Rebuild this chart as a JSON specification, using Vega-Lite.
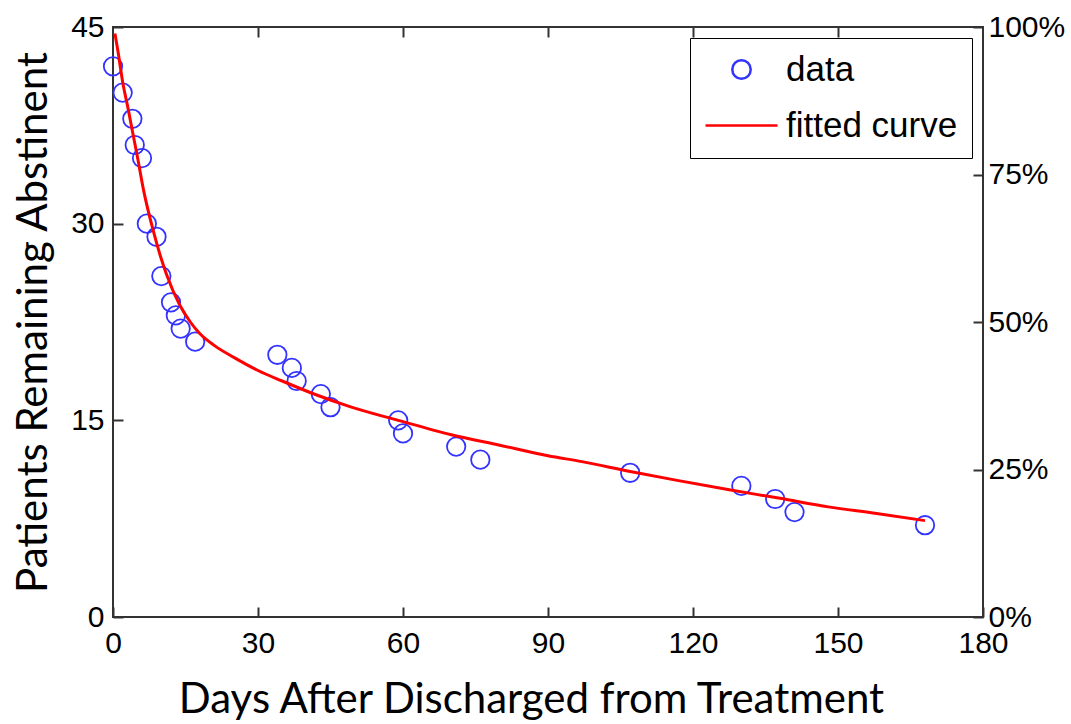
{
  "$schema": "https://vega.github.io/schema/vega-lite/v6.json",
  "width": 870,
  "height": 590,
  "autosize": {"type": "none"},
  "padding": {"left": 113, "top": 27, "right": 88, "bottom": 107},
  "background": "white",
  "datasets": {
    "obs": [
      {"day": 0, "patients": 42},
      {"day": 2, "patients": 40},
      {"day": 4, "patients": 38},
      {"day": 4.5, "patients": 36},
      {"day": 6, "patients": 35},
      {"day": 7, "patients": 30},
      {"day": 9, "patients": 29},
      {"day": 10, "patients": 26},
      {"day": 12, "patients": 24},
      {"day": 13, "patients": 23},
      {"day": 14, "patients": 22},
      {"day": 17, "patients": 21},
      {"day": 34, "patients": 20},
      {"day": 37, "patients": 19},
      {"day": 38, "patients": 18},
      {"day": 43, "patients": 17},
      {"day": 45, "patients": 16},
      {"day": 59, "patients": 15},
      {"day": 60, "patients": 14},
      {"day": 71, "patients": 13},
      {"day": 76, "patients": 12},
      {"day": 107, "patients": 11},
      {"day": 130, "patients": 10},
      {"day": 137, "patients": 9},
      {"day": 141, "patients": 8},
      {"day": 168, "patients": 7}
    ],
    "fit": [
      {"day": 0.4, "patients": 44.5},
      {"day": 1, "patients": 43.2},
      {"day": 2.1, "patients": 40.6},
      {"day": 3, "patients": 39.0},
      {"day": 4.2, "patients": 36.7},
      {"day": 5, "patients": 35.2},
      {"day": 6.3, "patients": 32.6},
      {"day": 8.3, "patients": 29.5},
      {"day": 10, "patients": 27.3},
      {"day": 11.1, "patients": 26.1},
      {"day": 13.8, "patients": 23.8},
      {"day": 16, "patients": 22.5},
      {"day": 18, "patients": 21.6},
      {"day": 21, "patients": 20.7},
      {"day": 25, "patients": 19.8},
      {"day": 30, "patients": 18.8},
      {"day": 35, "patients": 18.0},
      {"day": 42, "patients": 16.95},
      {"day": 49, "patients": 16.05},
      {"day": 59, "patients": 15.0},
      {"day": 70, "patients": 13.9},
      {"day": 80, "patients": 13.1},
      {"day": 90, "patients": 12.3},
      {"day": 97, "patients": 11.85},
      {"day": 107, "patients": 11.1},
      {"day": 117, "patients": 10.4},
      {"day": 127.5, "patients": 9.7},
      {"day": 138, "patients": 9.05},
      {"day": 148, "patients": 8.4},
      {"day": 158, "patients": 7.9},
      {"day": 168, "patients": 7.35}
    ]
  },
  "config": {
    "view": {"stroke": "#333333", "strokeWidth": 2},
    "axis": {
      "grid": false,
      "domain": false,
      "offset": -10,
      "tickColor": "#333333",
      "tickWidth": 2,
      "tickSize": 10,
      "labelFont": "Liberation Sans",
      "labelFontSize": 30,
      "labelColor": "black",
      "labelFlush": false,
      "labelOverlap": false,
      "titleFont": "Lato",
      "titleFontSize": 42,
      "titleFontWeight": "normal",
      "titleColor": "black"
    },
    "legend": {
      "orient": "top-right",
      "offset": 11,
      "padding": 14,
      "strokeColor": "black",
      "fillColor": "white",
      "labelFont": "Liberation Sans",
      "labelFontSize": 35,
      "labelLimit": 400,
      "labelColor": "black",
      "labelOffset": 7,
      "rowPadding": -21,
      "symbolStrokeWidth": 2.5
    }
  },
  "layer": [
    {
      "encoding": {
        "x": {"field": "day", "type": "quantitative", "scale": {"domain": [0, 180], "nice": false, "zero": false},
          "axis": {
            "orient": "bottom",
            "values": [0, 30, 60, 90, 120, 150, 180],
            "labelPadding": 11,
            "title": "Days After Discharged from Treatment",
            "titleX": 418,
            "titleY": 105,
            "titleBaseline": "alphabetic",
            "titleAlign": "center"
          }},
        "y": {"field": "patients", "type": "quantitative", "scale": {"domain": [0, 45], "nice": false},
          "axis": {
            "orient": "left",
            "values": [0, 15, 30, 45],
            "labelPadding": 9,
            "title": "Patients Remaining Abstinent",
            "titleX": -77,
            "titleY": 295,
            "titleAngle": 270,
            "titleBaseline": "alphabetic",
            "titleAlign": "center"
          }}
      },
      "layer": [
        {
          "data": {"name": "obs"},
          "mark": {"type": "point", "filled": false, "strokeWidth": 1.8, "opacity": 1},
          "encoding": {
            "color": {
              "datum": "data",
              "type": "nominal",
              "scale": {"domain": ["data", "fitted curve"], "range": ["#3333FF", "#FF0000"]},
              "legend": {"title": null}
            },
            "shape": {
              "datum": "data",
              "type": "nominal",
              "scale": {"domain": ["data", "fitted curve"], "range": ["circle", "stroke"]},
              "legend": {"title": null}
            },
            "size": {
              "datum": "data",
              "type": "ordinal",
              "scale": {"domain": ["data", "fitted curve"], "range": [340, 5184]},
              "legend": {"title": null}
            }
          }
        },
        {
          "data": {"name": "fit"},
          "mark": {"type": "line", "strokeWidth": 3, "interpolate": "monotone"},
          "encoding": {
            "color": {"datum": "fitted curve", "type": "nominal"}
          }
        }
      ]
    },
    {
      "data": {"name": "fit"},
      "mark": {"type": "point", "opacity": 0},
      "encoding": {
        "x": {
          "field": "day",
          "type": "quantitative",
          "scale": {"domain": [0, 180], "nice": false, "zero": false},
          "axis": {"orient": "top", "values": [30, 60, 90, 120, 150], "labels": false, "title": null}
        },
        "y": {
          "field": "patients",
          "type": "quantitative",
          "scale": {"domain": [0, 45], "nice": false},
          "axis": {
            "orient": "right",
            "values": [0, 11.25, 22.5, 33.75, 45],
            "labelExpr": "format(datum.value / 45 * 100, 'd') + '%'",
            "labelPadding": 5,
            "title": null
          }
        }
      }
    }
  ],
  "resolve": {"scale": {"x": "independent", "y": "independent"}, "axis": {"x": "independent", "y": "independent"}}
}
